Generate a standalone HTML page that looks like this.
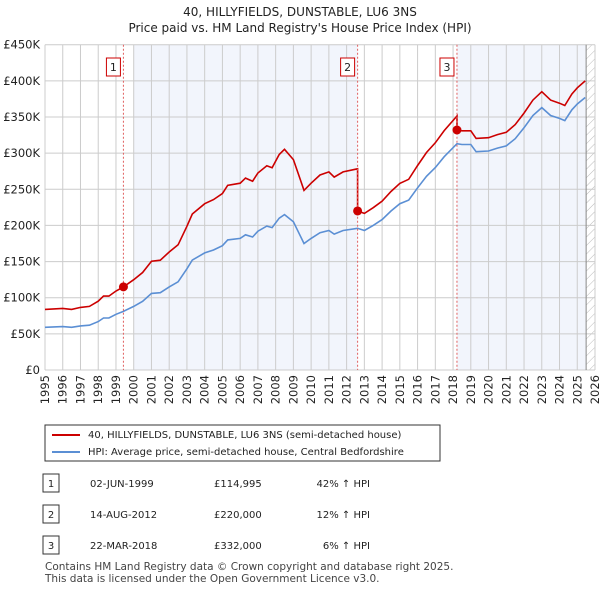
<!DOCTYPE html>
<html><head><meta charset="utf-8"><style>
body{margin:0;background:#fff;font-family:"DejaVu Sans",sans-serif;}
svg text{font-family:"DejaVu Sans",sans-serif;}
</style></head><body>
<svg id="c" width="600" height="590" xmlns="http://www.w3.org/2000/svg">
<text x="300" y="16" text-anchor="middle" font-size="12" fill="#222">40, HILLYFIELDS, DUNSTABLE, LU6 3NS</text>
<text x="300" y="32" text-anchor="middle" font-size="12" fill="#222">Price paid vs. HM Land Registry's House Price Index (HPI)</text>
<g id="plot"></g>
<g>
<rect x="45" y="425" width="395" height="36" fill="#fff" stroke="#333"/>
<line x1="52" y1="435" x2="80" y2="435" stroke="#cc0000" stroke-width="2"/>
<text x="88" y="438" font-size="10" fill="#222">40, HILLYFIELDS, DUNSTABLE, LU6 3NS (semi-detached house)</text>
<line x1="52" y1="452" x2="80" y2="452" stroke="#5b8fd4" stroke-width="2"/>
<text x="88" y="455" font-size="10" fill="#222">HPI: Average price, semi-detached house, Central Bedfordshire</text>
</g>
<g id="table" font-size="10" fill="#222"></g>
<text x="45" y="570" font-size="10.5" fill="#444">Contains HM Land Registry data © Crown copyright and database right 2025.</text>
<text x="45" y="582" font-size="10.5" fill="#444">This data is licensed under the Open Government Licence v3.0.</text>
</svg>
<script>
const hpiYears=[1995,1996,1996.5,1997,1997.5,1998,1998.3,1998.6,1999,1999.42,2000,2000.5,2001,2001.5,2002,2002.5,2003,2003.3,2004,2004.5,2005,2005.3,2006,2006.3,2006.7,2007,2007.5,2007.8,2008.2,2008.5,2009,2009.4,2009.6,2010,2010.5,2011,2011.3,2011.8,2012.62,2013,2013.5,2014,2014.5,2015,2015.5,2016,2016.5,2017,2017.5,2018.22,2018.5,2019,2019.3,2020,2020.5,2021,2021.5,2022,2022.5,2023,2023.5,2024,2024.3,2024.7,2025,2025.45];
const hpiValues=[59,60,59,61,62,67,72,72,77,81,88,95,106,107,115,122,140,152,162,166,172,180,182,187,184,192,199,197,210,215,205,185,175,182,190,193,188,193,196,193,200,208,220,230,235,252,268,280,295,313,312,312,302,303,307,310,320,335,352,363,352,348,345,360,368,377];
const saleYears=[1999.42,2012.62,2018.22];
const salePrices=[114995,220000,332000];
const saleLabels=["1","2","3"];
const saleDates=["02-JUN-1999","14-AUG-2012","22-MAR-2018"];
const salePriceText=["£114,995","£220,000","£332,000"];
const saleHpiText=["42% ↑ HPI","12% ↑ HPI","6% ↑ HPI"];
const yTicks=[0,50,100,150,200,250,300,350,400,450];
const yTickLabels=["£0","£50K","£100K","£150K","£200K","£250K","£300K","£350K","£400K","£450K"];
const xTicks=[1995,1996,1997,1998,1999,2000,2001,2002,2003,2004,2005,2006,2007,2008,2009,2010,2011,2012,2013,2014,2015,2016,2017,2018,2019,2020,2021,2022,2023,2024,2025,2026];

const L=45,R=595,T=44.7,B=370,X0=1995,X1=2026,YMAX=450;
const xs=v=>L+(v-X0)/(X1-X0)*(R-L);
const ys=v=>B-v/YMAX*(B-T);
const NS="http://www.w3.org/2000/svg";
const plot=document.getElementById('plot');
function mk(tag,attrs,parent){const e=document.createElementNS(NS,tag);for(const k in attrs)e.setAttribute(k,attrs[k]);(parent||plot).appendChild(e);return e;}
function hpiAt(t){for(let i=0;i<hpiYears.length-1;i++){if(t>=hpiYears[i]&&t<=hpiYears[i+1]){const f=(t-hpiYears[i])/(hpiYears[i+1]-hpiYears[i]);return hpiValues[i]+f*(hpiValues[i+1]-hpiValues[i]);}}return hpiValues[hpiValues.length-1];}

let e=mk('rect',{x:L,y:T,width:R-L,height:B-T,fill:'#fff'});

e=mk('rect',{x:xs(2000),y:T,width:xs(saleYears[1])-xs(2000),height:B-T,fill:'#f2f5fc'});

e=mk('rect',{x:xs(saleYears[2]),y:T,width:xs(2025.5)-xs(saleYears[2]),height:B-T,fill:'#f2f5fc'});

const defs=mk('defs',{});
const pat=mk('pattern',{id:'hatch',width:6,height:6,patternUnits:'userSpaceOnUse',patternTransform:'rotate(45)'},defs);
mk('line',{x1:0,y1:0,x2:0,y2:6,stroke:'#bbb','stroke-width':1},pat);
e=mk('rect',{x:xs(2025.5),y:T,width:R-xs(2025.5),height:B-T,fill:'url(#hatch)'});

xTicks.forEach((t,i)=>{
 let g=mk('line',{x1:xs(t),y1:T,x2:xs(t),y2:B,stroke:'#ccc','stroke-width':1});
 
 let tx=mk('text',{x:0,y:0,'font-size':11.5,fill:'#222','text-anchor':'end',transform:`translate(${xs(t)+4},${B+5}) rotate(-90)`});
 tx.textContent=t;
 
});
yTicks.forEach((v,i)=>{
 let g=mk('line',{x1:L,y1:ys(v),x2:R,y2:ys(v),stroke:'#ccc','stroke-width':1});
 
 let tx=mk('text',{x:L-5,y:ys(v)+4,'font-size':11.5,fill:'#222','text-anchor':'end'});
 tx.textContent=yTickLabels[i];
 
});
e=mk('line',{x1:xs(2025.5),y1:T,x2:xs(2025.5),y2:B,stroke:'#888','stroke-width':1});

let d=hpiYears.map((t,i)=>(i?'L':'M')+xs(t).toFixed(1)+','+ys(hpiValues[i]).toFixed(1)).join('');
e=mk('path',{d:d,fill:'none',stroke:'#5b8fd4','stroke-width':1.6});

let pd='';
hpiYears.forEach((t,i)=>{
 let k=0;for(let j=0;j<saleYears.length;j++)if(t>=saleYears[j])k=j;
 const r=salePrices[k]/1000/hpiAt(saleYears[k]);
 pd+=(i?'L':'M')+xs(t).toFixed(1)+','+ys(hpiValues[i]*r).toFixed(1);
 if(i<hpiYears.length-1){for(let j=1;j<saleYears.length;j++){if(saleYears[j]>t&&saleYears[j]<=hpiYears[i+1]){const rp=salePrices[j-1]/1000/hpiAt(saleYears[j-1]);pd+='L'+xs(saleYears[j]).toFixed(1)+','+ys(hpiAt(saleYears[j])*rp).toFixed(1);}}}
});
e=mk('path',{d:pd,fill:'none',stroke:'#cc0000','stroke-width':1.6});

saleYears.forEach((t,i)=>{
 let l=mk('line',{x1:xs(t),y1:T,x2:xs(t),y2:B,stroke:'#e06060','stroke-width':1,'stroke-dasharray':'2,2'});
 
 let c=mk('circle',{cx:xs(t),cy:ys(salePrices[i]/1000),r:4.5,fill:'#cc0000'});
 
 let b=mk('rect',{x:xs(t)-17,y:58,width:14,height:18,fill:'#fff',stroke:'#cc0000'});
 
 let tx=mk('text',{x:xs(t)-10,y:71,'font-size':11,fill:'#222','text-anchor':'middle'});
 tx.textContent=saleLabels[i];
 
});
const tbl=document.getElementById('table');
const rowsY=[483,514,545];
saleLabels.forEach((s,i)=>{
 const y=rowsY[i];
 let b=mk('rect',{x:43,y:y-9,width:16,height:18,fill:'#fff',stroke:'#333'},tbl);
 
 let t=mk('text',{x:51,y:y+4,'text-anchor':'middle'},tbl);t.textContent=s;
 
 t=mk('text',{x:90,y:y+4},tbl);t.textContent=saleDates[i];
 
 t=mk('text',{x:214,y:y+4},tbl);t.textContent=salePriceText[i];
 
 t=mk('text',{x:370,y:y+4,'text-anchor':'end'},tbl);t.textContent=saleHpiText[i];
 
});
</script>
</body></html>
